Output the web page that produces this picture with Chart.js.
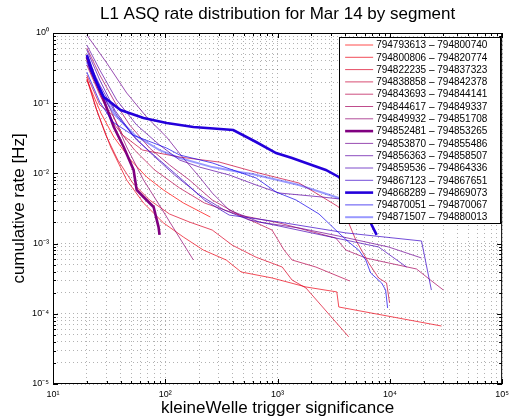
<!DOCTYPE html>
<html>
<head>
<meta charset="utf-8">
<script src="https://cdn.jsdelivr.net/npm/chart.js@4.4.1/dist/chart.umd.min.js"></script>
<style>
  html, body { margin: 0; padding: 0; background: #fff; }
  #wrap { width: 514px; height: 419px; }
</style>
</head>
<body>
<div id="wrap"><canvas id="asqChart" width="514" height="419"></canvas></div>
<script>
// ============================================================
// L1 ASQ cumulative rate per science segment (log-log)
// ============================================================

const SEG_LABELS = [
  '794793613 \u2013 794800740', '794800806 \u2013 794820774', '794822235 \u2013 794837323',
  '794838858 \u2013 794842378', '794843693 \u2013 794844141', '794844617 \u2013 794849337',
  '794849932 \u2013 794851708', '794852481 \u2013 794853265', '794853870 \u2013 794855486',
  '794856363 \u2013 794858507', '794859536 \u2013 794864336', '794867123 \u2013 794867651',
  '794868289 \u2013 794869073', '794870051 \u2013 794870067', '794871507 \u2013 794880013'
];

// significance (x) / cumulative rate in Hz (y)
const seg01X = [20, 26.7, 34.8, 49.2, 68.2, 96.4, 145, 252];
const seg01Y = [0.214, 0.0725, 0.033, 0.0155, 0.0089, 0.0058, 0.00379, 0.00239];
const seg02X = [20, 24.5, 32.6, 45.3, 64, 96.4, 145, 218, 349, 474, 893, 1790, 3370, 3510, 28800];
const seg02Y = [0.236, 0.080, 0.0238, 0.00805, 0.00379, 0.00197, 0.00124, 0.00081, 5.84e-4, 3.94e-4, 3.24e-4, 2.41e-4, 2.05e-4, 1.25e-4, 6.7e-5];
const seg03X = [20, 24.1, 29.5, 37.8, 51.3, 72.4, 109, 164, 262, 395, 644, 1100, 1345, 1790, 4300];
const seg03Y = [0.221, 0.0855, 0.0352, 0.0155, 0.0073, 0.00418, 0.00264, 0.00203, 0.00156, 9.5e-4, 6.4e-4, 4.64e-4, 3.03e-4, 2.33e-4, 4.7e-5];
const seg04X = [20, 26.1, 34.0, 41.8, 62.8, 134, 303, 685, 1550, 2190, 3510, 4300, 4970, 6480, 7940, 9350, 9950];
const seg04Y = [0.252, 0.0943, 0.0679, 0.0352, 0.0215, 0.0171, 0.0145, 0.0101, 0.0073, 0.00526, 0.00332, 0.00197, 0.00113, 5.3e-4, 3.24e-4, 2.75e-4, 1.43e-4];
const seg05X = [20, 26.1, 35.5, 53.3, 80.3, 134, 223, 456, 893, 1143, 1345, 2190, 4400];
const seg05Y = [0.350, 0.131, 0.0489, 0.0215, 0.0112, 0.0062, 0.00379, 0.00255, 0.00156, 8.1e-4, 5.84e-4, 4.64e-4, 2.93e-4];
const seg06X = [20, 26.1, 35.5, 48.2, 72.4, 109, 164, 262, 456, 1031, 3300, 4060, 6100, 9740, 17270, 22980, 29970];
const seg06Y = [0.611, 0.252, 0.104, 0.0489, 0.023, 0.0132, 0.00805, 0.00418, 0.00255, 0.00197, 0.0012, 8.1e-4, 6.24e-4, 5.3e-4, 4.35e-4, 3.03e-4, 2.18e-4];
const seg07X = [20, 25, 32.6, 45.3, 64, 90.8, 125.9, 178];
const seg07Y = [0.50, 0.19, 0.080, 0.0238, 0.00805, 0.00332, 0.00142, 5.84e-4];
const seg08X = [20, 21.7, 28.3, 34.8, 42.6, 52.2, 55.6, 64, 78.7, 87.1, 88.9];
const seg08Y = [0.455, 0.297, 0.111, 0.0458, 0.0238, 0.0112, 0.0058, 0.00461, 0.00332, 0.00172, 0.00133];
const seg09X = [20, 30.1, 45.3, 68.2, 102.6, 142.2, 201.5, 262, 371, 685, 1550, 3510, 9740, 19140];
const seg09Y = [0.937, 0.374, 0.140, 0.0636, 0.033, 0.0171, 0.0089, 0.00526, 0.00301, 0.00203, 0.00167, 0.00128, 8.95e-4, 6.24e-4];
const seg10X = [20, 26.1, 36.9, 55.6, 88.9, 134, 201.5, 371, 644, 1031, 2480, 4300, 7940];
const seg10Y = [0.675, 0.297, 0.111, 0.0489, 0.0254, 0.0155, 0.0123, 0.0095, 0.00684, 0.00526, 0.00461, 0.00418, 0.00379];
const seg11X = [20, 26.1, 35.5, 51.3, 77.1, 120.8, 201.5, 335, 558, 1031, 3300, 7940, 14080];
const seg11Y = [0.573, 0.214, 0.080, 0.0352, 0.0183, 0.0095, 0.00492, 0.00301, 0.00217, 0.00178, 0.0012, 8.95e-4, 4.64e-4];
const seg12X = [20, 26.1, 36.9, 55.6, 88.9, 142.2, 223, 371, 1031, 4060, 19140, 23440];
const seg12Y = [0.440, 0.182, 0.0679, 0.0299, 0.0155, 0.00805, 0.00418, 0.00255, 0.00203, 0.00142, 0.00109, 2.18e-4];
const seg13X = [20, 23.6, 28.3, 40, 64, 103, 178, 403, 644, 970, 1345, 1900, 2690, 3510, 4760, 6220, 6890, 7630];
const seg13Y = [0.486, 0.229, 0.1225, 0.080, 0.0615, 0.0522, 0.0458, 0.0415, 0.028, 0.0195, 0.0166, 0.0136, 0.0112, 0.0089, 0.00526, 0.00273, 0.00184, 0.00133];
const seg14X = [20, 26.1, 34.0, 51.3, 102.6, 134, 262, 644, 970, 1460, 2340, 3510, 4300, 5280, 6100, 6750, 8450, 9170, 9550];
const seg14Y = [0.278, 0.104, 0.054, 0.0352, 0.023, 0.0183, 0.0141, 0.0086, 0.00543, 0.00418, 0.00264, 0.00142, 0.00105, 8.1e-4, 5.84e-4, 3.81e-4, 2.75e-4, 2.18e-4, 1.21e-4];
const seg15X = [20, 26.1, 35.5, 53.3, 88.9, 134, 262, 456, 594, 1550, 3510, 6480];
const seg15Y = [0.386, 0.154, 0.0679, 0.0352, 0.0215, 0.0166, 0.0123, 0.0105, 0.0098, 0.00684, 0.00446, 0.00379];

const SEG_X = [seg01X, seg02X, seg03X, seg04X, seg05X, seg06X, seg07X, seg08X, seg09X, seg10X, seg11X, seg12X, seg13X, seg14X, seg15X];
const SEG_Y = [seg01Y, seg02Y, seg03Y, seg04Y, seg05Y, seg06Y, seg07Y, seg08Y, seg09Y, seg10Y, seg11Y, seg12Y, seg13Y, seg14Y, seg15Y];

const X_TICK_LABELS = { 10: '10\u00b9', 100: '10\u00b2', 1000: '10\u00b3', 10000: '10\u2074', 100000: '10\u2075' };
const Y_TICK_LABELS = { 1: '10\u2070', 0.1: '10\u207b\u00b9', 0.01: '10\u207b\u00b2', 0.001: '10\u207b\u00b3', 0.0001: '10\u207b\u2074', 0.00001: '10\u207b\u2075' };

const FONT = '"Liberation Sans", Arial, Helvetica, sans-serif';
const THICK = [7, 12];   // the two highlighted segments

// red -> purple -> blue across the segments
function segColor(i, a) {
  const t = i / (SEG_LABELS.length - 1);
  return `rgba(${Math.round(255 * (1 - t))},0,${Math.round(255 * t)},${a})`;
}

function segStyle(i) {
  if (THICK.includes(i)) return { color: segColor(i, 1), width: 2.6 };
  if (i === 14) return { color: segColor(i, 0.4), width: 2 };
  return { color: segColor(i, 0.7), width: 1 };
}

function logTicks(min, max) {
  const out = [];
  for (let e = Math.round(Math.log10(min)); e < Math.round(Math.log10(max)); e++) {
    for (let m = 1; m < 10; m++) out.push({ value: m * Math.pow(10, e) });
  }
  out.push({ value: max });
  return out;
}

function isDecade(v) {
  const l = Math.log10(v);
  return Math.abs(l - Math.round(l)) < 1e-6;
}

// box, inward ticks and the in-axes legend (matlab look)
const axesDecor = {
  id: 'axesDecor',
  afterDatasetsDraw(chart) {
    const { ctx, chartArea: a, scales } = chart;
    ctx.save();
    ctx.strokeStyle = '#000';
    ctx.lineWidth = 1;
    ctx.setLineDash([]);
    ctx.strokeRect(a.left + 0.5, a.top + 0.5, a.right - a.left - 1, a.bottom - a.top - 1);

    ctx.beginPath();
    scales.x.ticks.forEach(t => {
      const px = Math.round(scales.x.getPixelForValue(t.value)) + 0.5;
      const len = isDecade(t.value) ? 5 : 3;
      ctx.moveTo(px, a.bottom); ctx.lineTo(px, a.bottom - len);
      ctx.moveTo(px, a.top); ctx.lineTo(px, a.top + len);
    });
    scales.y.ticks.forEach(t => {
      const py = Math.round(scales.y.getPixelForValue(t.value)) + 0.5;
      const len = isDecade(t.value) ? 5 : 3;
      ctx.moveTo(a.left, py); ctx.lineTo(a.left + len, py);
      ctx.moveTo(a.right, py); ctx.lineTo(a.right - len, py);
    });
    ctx.stroke();

    // legend
    const rowH = 12.3;
    const bw = 161, bh = 186;
    const bx = a.right - 2 - bw, by = a.top + 4;
    ctx.fillStyle = '#fff';
    ctx.fillRect(bx, by, bw, bh);
    ctx.strokeRect(Math.round(bx) + 0.5, Math.round(by) + 0.5, bw, bh);
    ctx.font = `10px ${FONT}`;
    ctx.textBaseline = 'middle';
    chart.data.datasets.forEach((ds, i) => {
      const y = by + 8 + i * rowH;
      ctx.beginPath();
      ctx.strokeStyle = ds.borderColor;
      ctx.lineWidth = ds.borderWidth;
      ctx.moveTo(bx + 6, y); ctx.lineTo(bx + 34, y);
      ctx.stroke();
      ctx.fillStyle = '#000';
      ctx.fillText(ds.label, bx + 37, y + 0.5);
    });
    ctx.restore();
  }
};

const datasets = SEG_LABELS.map((label, i) => {
  const st = segStyle(i);
  return {
    label,
    data: SEG_X[i].map((x, k) => ({ x, y: SEG_Y[i][k] })),
    borderColor: st.color,
    borderWidth: st.width,
    pointRadius: 0,
    tension: 0,
    fill: false,
    order: SEG_LABELS.length - i
  };
});

new Chart(document.getElementById('asqChart'), {
  type: 'line',
  data: { datasets },
  options: {
    responsive: false,
    animation: false,
    events: [],
    layout: { padding: { right: 10, left: 0, top: 0, bottom: 0 } },
    plugins: {
      legend: { display: false },
      tooltip: { enabled: false },
      title: {
        display: true,
        text: 'L1 ASQ rate distribution for Mar 14 by segment',
        color: '#000',
        fullSize: false,
        font: { family: FONT, size: 17, weight: 'normal' },
        padding: { top: 4, bottom: 8.6 }
      }
    },
    scales: {
      x: {
        type: 'logarithmic',
        min: 10,
        max: 100000,
        afterBuildTicks: s => { s.ticks = logTicks(10, 100000); },
        afterFit: s => { s.height = 35; },
        ticks: {
          autoSkip: false,
          maxRotation: 0,
          padding: 5,
          color: '#000',
          font: { family: FONT, size: 9 },
          callback: v => X_TICK_LABELS[v] || ''
        },
        grid: { color: 'rgba(0,0,0,0.3)', drawTicks: false, lineWidth: 1 },
        border: { display: false, dash: [1, 3] },
        title: {
          display: true,
          text: 'kleineWelle trigger significance',
          color: '#000',
          font: { family: FONT, size: 17 },
          padding: { top: 0, bottom: 0 }
        }
      },
      y: {
        type: 'logarithmic',
        min: 0.00001,
        max: 1,
        afterBuildTicks: s => { s.ticks = logTicks(0.00001, 1); },
        afterFit: s => { s.width = 53; },
        ticks: {
          autoSkip: false,
          padding: 4,
          color: '#000',
          font: { family: FONT, size: 9 },
          callback: v => Y_TICK_LABELS[v] || ''
        },
        grid: { color: 'rgba(0,0,0,0.3)', drawTicks: false, lineWidth: 1 },
        border: { display: false, dash: [1, 3] },
        title: {
          display: true,
          text: 'cumulative rate [Hz]',
          color: '#000',
          font: { family: FONT, size: 17 },
          padding: { top: 9, bottom: 0 }
        }
      }
    }
  },
  plugins: [axesDecor]
});
</script>
</body>
</html>
